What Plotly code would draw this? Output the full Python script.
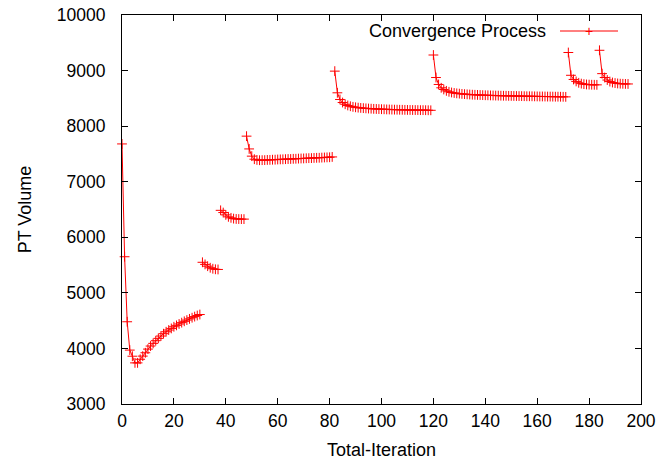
import plotly.graph_objects as go

# ---- data ----
seg1_x = list(range(0, 31))
seg1_y = [7680, 5650, 4480, 3970, 3860, 3740, 3740, 3805, 3862, 3922, 3988,
          4043, 4091, 4139, 4181, 4223, 4265, 4300, 4331, 4360, 4390, 4415,
          4440, 4464, 4488, 4510, 4532, 4553, 4573, 4592, 4610]
seg2_x = list(range(31, 38))
seg2_y = [5550, 5512, 5480, 5452, 5434, 5424, 5421]
seg3_x = list(range(38, 48))
seg3_y = [6485, 6445, 6403, 6368, 6350, 6336, 6330, 6328, 6327, 6327]
seg4_x = list(range(48, 82))
seg4_y = [7820, 7590, 7460, 7405, 7392, 7387, 7388, 7389, 7392, 7393, 7396,
          7397, 7400, 7402, 7403, 7406, 7408, 7409, 7412, 7413, 7416, 7418,
          7419, 7422, 7424, 7425, 7428, 7430, 7431, 7434, 7436, 7438, 7440, 7446]
seg5_x = list(range(82, 120))
seg5_y = [8990, 8600, 8480, 8425, 8394, 8372, 8358, 8347, 8339, 8333, 8328,
          8324, 8320, 8317, 8314, 8311, 8309, 8307, 8305, 8303, 8301, 8300,
          8298, 8297, 8296, 8295, 8294, 8293, 8292, 8291, 8290, 8290, 8289,
          8288, 8288, 8287, 8286, 8285]
seg6_x = list(range(120, 172))
seg6_y = [9280, 8875, 8750, 8690, 8660, 8635, 8618, 8606, 8597, 8590, 8585,
          8580, 8576, 8572, 8569, 8566, 8564, 8562, 8560, 8558, 8556, 8555,
          8553, 8552, 8550, 8549, 8548, 8547, 8546, 8545, 8544, 8543, 8542,
          8541, 8540, 8539, 8538, 8538, 8537, 8536, 8535, 8534, 8534, 8533,
          8532, 8532, 8531, 8530, 8530, 8529, 8528, 8527]
seg7_x = list(range(172, 184))
seg7_y = [9325, 8915, 8840, 8805, 8780, 8765, 8756, 8750, 8747, 8745, 8744, 8743]
seg8_x = list(range(184, 196))
seg8_y = [9365, 8945, 8875, 8830, 8802, 8785, 8775, 8768, 8764, 8762, 8760, 8759]

x_ticks = [0, 20, 40, 60, 80, 100, 120, 140, 160, 180, 200]
y_ticks = [3000, 4000, 5000, 6000, 7000, 8000, 9000, 10000]
y_tick_labels = ["3000", "4000", "5000", "6000", "7000", "8000", "9000", "10000"]
series_name = "Convergence Process"

segments = [(seg1_x, seg1_y), (seg2_x, seg2_y), (seg3_x, seg3_y), (seg4_x, seg4_y),
            (seg5_x, seg5_y), (seg6_x, seg6_y), (seg7_x, seg7_y), (seg8_x, seg8_y)]
xs, ys = [], []
for sx, sy in segments:
    xs += sx + [None]
    ys += sy + [None]

RED = "#ff0000"
FONT = "Liberation Sans, Arial, sans-serif"
FS = 18
TFS = 17.5

# the page body margin is removed (post_script), so the figure fills the window
W, H = 669, 461
L, T = 122, 15
PW, PH = 519, 389
R = W - L - PW
B = H - T - PH

fig = go.Figure()
fig.add_trace(go.Scatter(
    x=xs, y=ys, mode="lines+markers", name=series_name,
    line=dict(color=RED, width=1),
    marker=dict(symbol="cross-thin", size=7, line=dict(color=RED, width=1)),
    connectgaps=False, cliponaxis=False, showlegend=False,
))

axis_common = dict(
    showline=True, linecolor="black", linewidth=1, mirror="ticks",
    ticks="inside", ticklen=6, tickcolor="black", tickwidth=1,
    showgrid=False, zeroline=False, automargin=False,
    ticklabeloverflow="allow",
    tickfont=dict(family=FONT, size=TFS, color="black"),
)

fig.update_xaxes(range=[0, 200], tickvals=x_ticks, ticklabelstandoff=1,
                 title=dict(text="Total-Iteration", font=dict(family=FONT, size=FS, color="black"), standoff=13),
                 **axis_common)
fig.update_yaxes(range=[3000, 10000], tickvals=y_ticks, ticktext=y_tick_labels,
                 ticklabelstandoff=12,
                 title=dict(text="PT Volume", font=dict(family=FONT, size=FS, color="black"), standoff=20),
                 **axis_common)

fig.update_layout(
    width=W, height=H,
    margin=dict(l=L, r=R, t=T, b=B),
    paper_bgcolor="white", plot_bgcolor="white",
    font=dict(family=FONT, size=FS, color="black"),
)

def px2paper(px, py):
    return (px - L) / PW, (H - B - py) / PH

# gnuplot-style key: text on the left, line sample with point on the right
tx, ty = px2paper(548, 31)
fig.add_annotation(x=tx, y=ty, xref="paper", yref="paper", text=series_name,
                   showarrow=False, xanchor="right", yanchor="middle",
                   font=dict(family=FONT, size=FS, color="black"))
lx0, ly = px2paper(560, 31)
lx1, _ = px2paper(618, 31)
mx, _ = px2paper(589, 31)
fig.add_shape(type="line", xref="paper", yref="paper", x0=lx0, x1=lx1, y0=ly, y1=ly,
              line=dict(color=RED, width=1))
fig.add_annotation(x=mx, y=ly, xref="paper", yref="paper", text="+", showarrow=False,
                   xanchor="center", yanchor="middle",
                   font=dict(family=FONT, size=14, color=RED))

fig.write_html("out.html",
               config={"displayModeBar": False},
               post_script="document.body.style.margin='0';document.body.style.overflow='hidden';")
